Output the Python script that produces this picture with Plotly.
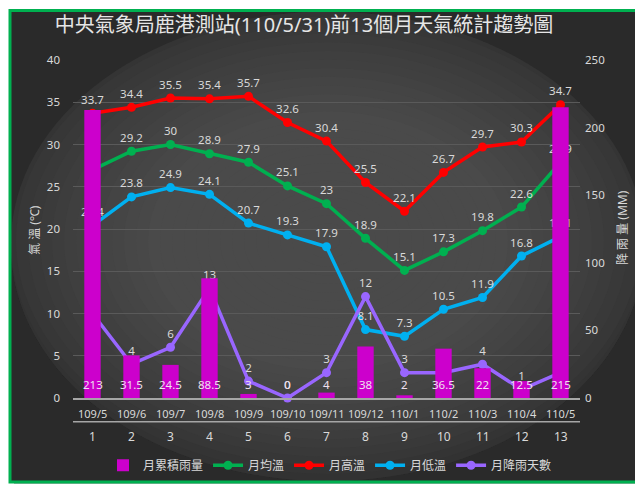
import plotly.graph_objects as go

months = ["109/5", "109/6", "109/7", "109/8", "109/9", "109/10", "109/11",
          "109/12", "110/1", "110/2", "110/3", "110/4", "110/5"]
idx = list(range(1, 14))
rain = [213, 31.5, 24.5, 88.5, 3, 0, 4, 38, 2, 36.5, 22, 12.5, 215]
t_avg = [27, 29.2, 30, 28.9, 27.9, 25.1, 23, 18.9, 15.1, 17.3, 19.8, 22.6, 27.9]
t_max = [33.7, 34.4, 35.5, 35.4, 35.7, 32.6, 30.4, 25.5, 22.1, 26.7, 29.7, 30.3, 34.7]
t_min = [20.4, 23.8, 24.9, 24.1, 20.7, 19.3, 17.9, 8.1, 7.3, 10.5, 11.9, 16.8, 19.1]
rain_days = [10, 4, 6, 13, 2, 0, 3, 12, 3, 3, 4, 1, 3]

W, H = 643, 484
L, R, T, B = 65, 572, 52, 394  # plot area in px
FONT = "Noto Sans, Noto Sans CJK TC"
TXT = "#d9d9d9"


def px(x):
    return (x - L) / (R - L)


def py(y):
    return (B - y) / (B - T)


fig = go.Figure()

fig.add_trace(go.Bar(x=idx, y=rain, name="月累積雨量", yaxis="y2",
                     marker=dict(color="#cc00cc", line=dict(width=0)),
                     width=0.42))


def line(y, name, color):
    fig.add_trace(go.Scatter(
        x=idx, y=y, name=name, mode="lines+markers+text",
        line=dict(color=color, width=3.5),
        marker=dict(color=color, size=9),
        text=[f"{v:g}" for v in y], textposition="top center",
        textfont=dict(color=TXT, size=11.5, family=FONT),
        cliponaxis=False))


line(t_avg, "月均溫", "#00b050")
line(t_max, "月高溫", "#ff0000")
line(t_min, "月低溫", "#00b0f0")
line(rain_days, "月降雨天數", "#9966ff")

shapes = []
# shadow
shapes.append(dict(type="rect", xref="paper", yref="paper", layer="below",
                   x0=px(6), x1=px(641), y0=py(6), y1=py(483),
                   fillcolor="#b4b4b4", line=dict(width=0)))
# base dark
shapes.append(dict(type="rect", xref="paper", yref="paper", layer="below",
                   x0=px(2), x1=px(637), y0=py(2), y1=py(479),
                   fillcolor="#2a2a2a", line=dict(width=0)))
# radial gradient via nested ellipses
N = 30
cx, cy = 320, 235
rx0, ry0 = 360, 262
c0, c1 = 0x2a, 0x4a
for k in range(N):
    t = k / N
    rx, ry = rx0 * (1 - t), ry0 * (1 - t)
    f = min(1.0, (t / 0.5)) ** 0.7
    c = int(round(c0 + (c1 - c0) * f))
    col = "#%02x%02x%02x" % (c, c, c)
    shapes.append(dict(type="circle", xref="paper", yref="paper", layer="below",
                       x0=px(max(3, cx - rx)), x1=px(min(636, cx + rx)),
                       y0=py(max(3, cy - ry)), y1=py(min(478, cy + ry)),
                       fillcolor=col, line=dict(width=0)))
# green border
shapes.append(dict(type="rect", xref="paper", yref="paper", layer="below",
                   x0=px(2), x1=px(637), y0=py(2), y1=py(479),
                   fillcolor="rgba(0,0,0,0)", line=dict(color="#00b050", width=3)))
# second-level x axis line
shapes.append(dict(type="line", xref="paper", yref="paper", layer="above",
                   x0=0, x1=1, y0=py(418), y1=py(418),
                   line=dict(color="#a6a6a6", width=1.5)))

annotations = []
for i, v in zip(idx, rain):
    annotations.append(dict(x=i, y=0, xref="x", yref="y2", yanchor="bottom",
                            yshift=4, text=f"{v:g}", showarrow=False,
                            font=dict(color="#f0e0f0", size=11.5, family=FONT)))
for i, m in zip(idx, months):
    annotations.append(dict(x=i, y=py(410), xref="x", yref="paper",
                            yanchor="middle", text=m, showarrow=False,
                            font=dict(color=TXT, size=11, family=FONT)))
for i in idx:
    annotations.append(dict(x=i, y=py(433), xref="x", yref="paper",
                            yanchor="middle", text=str(i), showarrow=False,
                            font=dict(color=TXT, size=12, family=FONT)))
annotations.append(dict(x=px(27), y=py(224), xref="paper", yref="paper",
                        xanchor="center", yanchor="middle",
                        text="氣 溫 (℃)", textangle=-90, showarrow=False,
                        font=dict(color=TXT, size=12, family=FONT)))
annotations.append(dict(x=px(614), y=py(222), xref="paper", yref="paper",
                        xanchor="center", yanchor="middle",
                        text="降 雨 量 (MM)", textangle=-90, showarrow=False,
                        font=dict(color=TXT, size=12, family=FONT)))

fig.update_layout(
    width=W, height=H,
    margin=dict(l=L, r=W - R, t=T, b=H - B, pad=0),
    paper_bgcolor="white", plot_bgcolor="rgba(0,0,0,0)",
    font=dict(family=FONT, color=TXT, size=12),
    title=dict(text="中央氣象局鹿港測站(110/5/31)前13個月天氣統計趨勢圖",
               x=296 / W, xanchor="center", y=1 - 17 / H, yanchor="middle",
               font=dict(size=20, color="#e6e6e6", family=FONT)),
    xaxis=dict(range=[0.5, 13.5], tickvals=idx, showticklabels=False,
               showgrid=False, zeroline=False, showline=True,
               linecolor="#a6a6a6", linewidth=1.5, ticks=""),
    yaxis=dict(range=[0, 40], dtick=5, showgrid=True, gridcolor="#5a5a5a",
               gridwidth=1, zeroline=False, showline=False, ticks="",
               ticklabelstandoff=12, tickfont=dict(size=11.5, color=TXT)),
    yaxis2=dict(range=[0, 250], dtick=50, overlaying="y", side="right",
                showgrid=False, zeroline=False, showline=False, ticks="",
                ticklabelstandoff=4, tickfont=dict(size=11.5, color=TXT)),
    legend=dict(orientation="h", x=px(322), xanchor="center",
                y=py(462), yanchor="middle", font=dict(size=12, color=TXT),
                bgcolor="rgba(0,0,0,0)", itemwidth=30),
    showlegend=True,
    shapes=shapes, annotations=annotations,
    bargap=0.58,
)

fig.write_html("out.html")
